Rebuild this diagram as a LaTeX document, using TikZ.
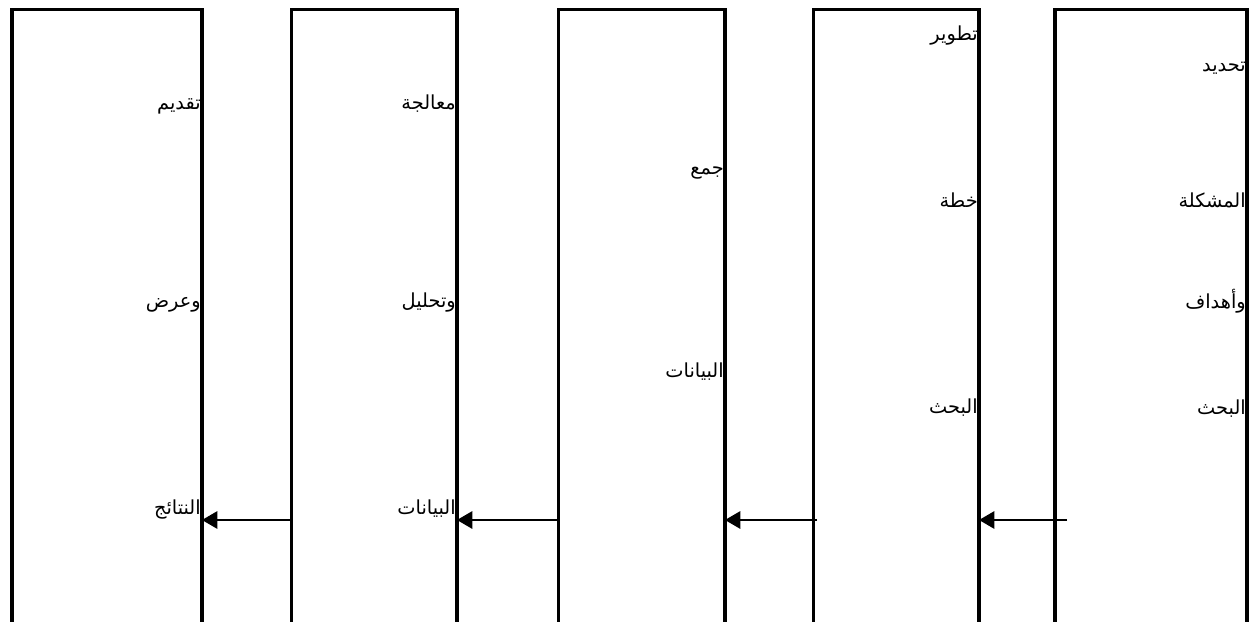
\documentclass[tikz,border=0pt]{standalone}
\usepackage{fontspec}
\newfontfamily\arabicfont[Script=Arabic]{DejaVu Sans}
\TeXXeTstate=1
\usetikzlibrary{arrows.meta}

\begin{document}
\begin{tikzpicture}[x=0.75pt,y=-0.75pt,
  box/.style={draw,line width=2.4pt,anchor=north west,outer sep=0pt,inner sep=0pt,minimum height=700pt},
  lbl/.style={anchor=base east,inner sep=0pt,font=\arabicfont\fontsize{14.5}{17}\selectfont},
  arr/.style={-{Triangle[length=11.5pt,width=13pt]},line width=1.5pt}]
\useasboundingbox (0,0) rectangle (1249,621);
% the five columns, left to right
\node[box,minimum width=142.5pt] (b1) at (12,9.3) {};
\node[box,minimum width=124.1pt] (b2) at (291.5,9.3) {};
\node[box,minimum width=124.7pt] (b3) at (558.7,9.3) {};
\node[box,minimum width=124pt] (b4) at (813.7,9.3) {};
\node[box,minimum width=144pt] (b5) at (1055,9.3) {};
% labels, set against the right side of each column
\node[lbl] (t1a) at (201,109) {\beginR تقديم\endR};
\node[lbl] (t1b) at (201,307) {\beginR وعرض\endR};
\node[lbl] (t1c) at (201,514) {\beginR النتائج\endR};
\node[lbl] (t2a) at (456,109) {\beginR معالجة\endR};
\node[lbl] (t2b) at (456,307) {\beginR وتحليل\endR};
\node[lbl] (t2c) at (456,514) {\beginR البيانات\endR};
\node[lbl] (t3a) at (724,174) {\beginR جمع\endR};
\node[lbl] (t3b) at (724,377) {\beginR البيانات\endR};
\node[lbl] (t4a) at (978,40) {\beginR تطوير\endR};
\node[lbl] (t4b) at (978,207) {\beginR خطة\endR};
\node[lbl] (t4c) at (978,413) {\beginR البحث\endR};
\node[lbl] (t5a) at (1246,71) {\beginR تحديد\endR};
\node[lbl] (t5b) at (1246,207) {\beginR المشكلة\endR};
\node[lbl] (t5c) at (1246,308) {\beginR وأهداف\endR};
\node[lbl] (t5d) at (1246,414) {\beginR البحث\endR};
% arrows, right to left
\coordinate (s3) at (817,520);
\coordinate (s4) at (1067,520);
\draw[arr] (b2.west |- s3) -- (b1.east |- s3);
\draw[arr] (b3.west |- s3) -- (b2.east |- s3);
\draw[arr] (s3) -- (b3.east |- s3);
\draw[arr] (s4) -- (b4.east |- s4);
\end{tikzpicture}
\end{document}
